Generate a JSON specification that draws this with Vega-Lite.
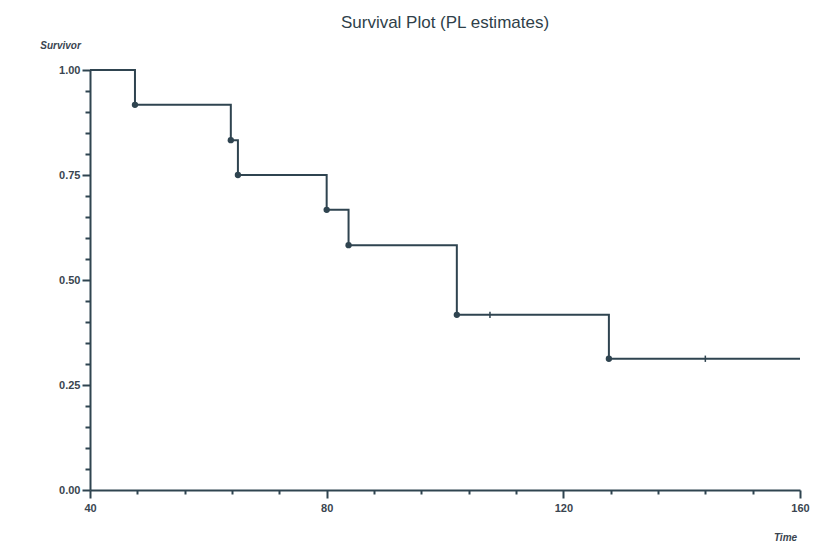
{
  "$schema": "https://vega.github.io/schema/vega-lite/v6.json",
  "width": 710,
  "height": 420,
  "autosize": {"type": "none"},
  "padding": {"left": 90, "top": 70, "right": 35, "bottom": 64},
  "background": "white",
  "title": {
    "text": "Survival Plot (PL estimates)",
    "fontSize": 17,
    "font": "Liberation Sans",
    "fontWeight": "normal",
    "color": "#2f3f4a",
    "offset": 8,
    "anchor": "middle"
  },
  "config": {
    "view": {"stroke": null},
    "axis": {
      "grid": false,
      "labelOverlap": false,
      "labelFlush": false,
      "domainColor": "#2f4450",
      "domainWidth": 2,
      "tickColor": "#2f4450",
      "tickWidth": 2,
      "labelFont": "Liberation Sans",
      "labelFontSize": 11,
      "labelFontWeight": "bold",
      "labelColor": "#3a4550",
      "titleFont": "Liberation Sans",
      "titleFontStyle": "italic",
      "titleFontWeight": "bold",
      "titleFontSize": 10,
      "titleColor": "#3a4550"
    }
  },
  "datasets": {
    "km": [
      {"t": 40, "s": 1.0},
      {"t": 47.6, "s": 0.917},
      {"t": 63.8, "s": 0.833},
      {"t": 65, "s": 0.75},
      {"t": 80, "s": 0.667},
      {"t": 83.7, "s": 0.583},
      {"t": 102, "s": 0.417},
      {"t": 127.7, "s": 0.3125},
      {"t": 160, "s": 0.3125}
    ],
    "events": [
      {"t": 47.6, "s": 0.917},
      {"t": 63.8, "s": 0.833},
      {"t": 65, "s": 0.75},
      {"t": 80, "s": 0.667},
      {"t": 83.7, "s": 0.583},
      {"t": 102, "s": 0.417},
      {"t": 127.7, "s": 0.3125}
    ],
    "censored": [
      {"t": 107.6, "s": 0.417},
      {"t": 144, "s": 0.3125}
    ]
  },
  "layer": [
    {
      "data": {"name": "km"},
      "mark": {"type": "line", "interpolate": "step-after", "color": "#2f4450", "strokeWidth": 2},
      "encoding": {
        "x": {
          "field": "t",
          "type": "quantitative",
          "scale": {"domain": [40, 160], "nice": false, "zero": false},
          "axis": {
            "values": [40, 48, 56, 64, 72, 80, 88, 96, 104, 112, 120, 128, 136, 144, 152, 160],
            "tickCount": 16,
            "labelExpr": "datum.value % 40 == 0 ? datum.label : ''",
            "tickSize": {"condition": {"test": "datum.value % 40 == 0", "value": 8}, "value": 4},
            "labelPadding": 4,
            "title": "Time",
            "titleX": 695,
            "titleY": 42,
            "titleAlign": "center"
          }
        },
        "y": {
          "field": "s",
          "type": "quantitative",
          "scale": {"domain": [0, 1], "nice": false},
          "axis": {
            "values": [0, 0.05, 0.1, 0.15, 0.2, 0.25, 0.3, 0.35, 0.4, 0.45, 0.5, 0.55, 0.6, 0.65, 0.7, 0.75, 0.8, 0.85, 0.9, 0.95, 1.0],
            "tickCount": 21,
            "format": ".2f",
            "labelExpr": "abs(datum.value*4 - round(datum.value*4)) < 0.001 ? datum.label : ''",
            "tickSize": {"condition": {"test": "abs(datum.value*4 - round(datum.value*4)) < 0.001", "value": 8}, "value": 5},
            "labelPadding": 2,
            "title": "Survivor",
            "titleAngle": 0,
            "titleX": -30,
            "titleY": -20,
            "titleAlign": "center"
          }
        }
      }
    },
    {
      "data": {"name": "events"},
      "mark": {"type": "point", "filled": true, "color": "#2f4450", "size": 40, "opacity": 1},
      "encoding": {
        "x": {"field": "t", "type": "quantitative"},
        "y": {"field": "s", "type": "quantitative"}
      }
    },
    {
      "data": {"name": "censored"},
      "mark": {"type": "point", "shape": "M0,-1L0,1", "filled": false, "color": "#2f4450", "strokeWidth": 1.5, "size": 40, "opacity": 1},
      "encoding": {
        "x": {"field": "t", "type": "quantitative"},
        "y": {"field": "s", "type": "quantitative"}
      }
    }
  ]
}
